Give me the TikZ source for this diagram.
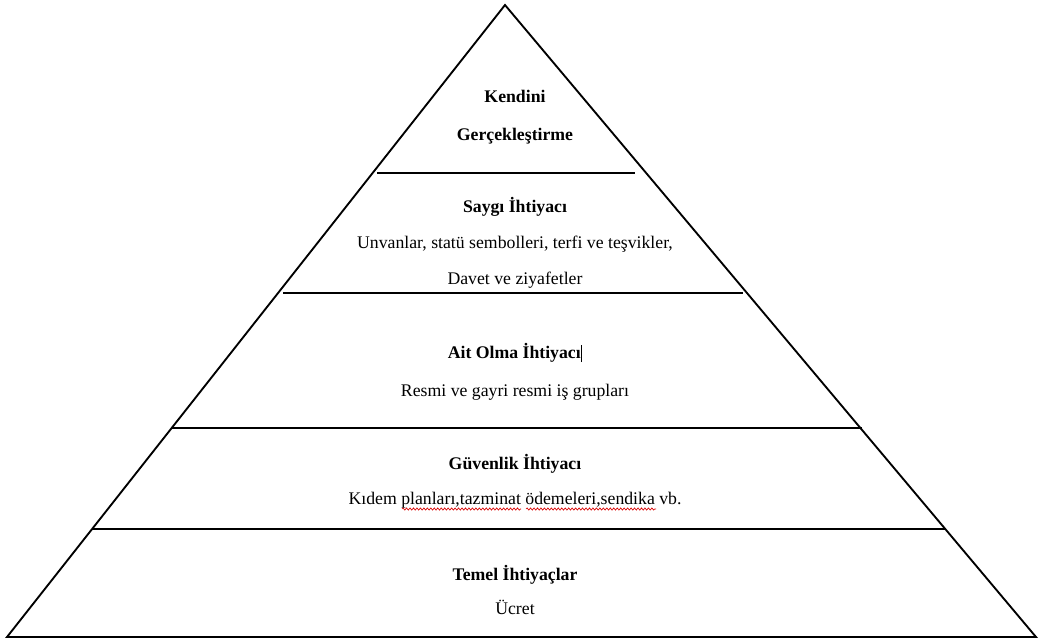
\documentclass[tikz,border=0pt]{standalone}
\usepackage{fontspec}
\setmainfont{Liberation Serif}
\usepackage{xcolor}
\usepackage{tikz}
\usetikzlibrary{decorations.pathmorphing}

\newcommand\textcursor{\kern0.5pt\rule[-2.5pt]{0.6pt}{13pt}}

\begin{document}
\begin{tikzpicture}[
  x=0.75pt, y=-0.75pt,
  edge/.style={
    draw=black,
    line width=1.4pt,
    line join=miter
  },
  divider/.style={
    draw=black,
    line width=0.8pt
  },
  layer/.style={
    align=center,
    inner sep=0pt,
    font=\fontsize{13.3}{27}\selectfont
  },
  spellmark/.style={
    draw=red!85!black,
    line width=0.5pt,
    decorate,
    decoration={snake, segment length=2.6pt, amplitude=0.8pt}
  }
]
\useasboundingbox (0,0) rectangle (1041,643);

% outline of the pyramid
\coordinate (apex) at (505,5);
\coordinate (baseL) at (7,637);
\coordinate (baseR) at (1036,637);
\draw[edge] (apex) -- (baseL) -- (baseR) -- cycle;

% dividers between the levels
\coordinate (d1l) at (377,173);
\coordinate (d1r) at (635,173);
\coordinate (d2l) at (283,293);
\coordinate (d2r) at (743,293);
\coordinate (d3l) at (172,428);
\coordinate (d3r) at (862,428);
\coordinate (d4l) at (92,529);
\coordinate (d4r) at (946,529);
\draw[divider] (d1l) -- (d1r);
\draw[divider] (d2l) -- (d2r);
\draw[divider] (d3l) -- (d3r);
\draw[divider] (d4l) -- (d4r);

% level texts
\node[layer, font=\fontsize{13.3}{28.5}\selectfont] (self) at (515,117)
  {\textbf{Kendini}\\\textbf{Gerçekleştirme}};
\node[layer] (esteem) at (515,243)
  {\textbf{Saygı İhtiyacı}\\Unvanlar, statü sembolleri, terfi ve teşvikler,\\Davet ve ziyafetler};
\node[layer, font=\fontsize{13.3}{28.5}\selectfont] (belong) at (515,372)
  {\textbf{Ait Olma İhtiyacı}\textcursor\\Resmi ve gayri resmi iş grupları};
\node[layer, font=\fontsize{13.3}{26}\selectfont] (safety) at (515,481)
  {\textbf{Güvenlik İhtiyacı}\\Kıdem planları,tazminat ödemeleri,sendika vb.};
\node[layer, font=\fontsize{13.3}{26}\selectfont] (basic) at (515,590)
  {\textbf{Temel İhtiyaçlar}\\Ücret};

% spell-check marks
\coordinate (w1a) at (402,509);
\coordinate (w1b) at (521,509);
\coordinate (w2a) at (526,509);
\coordinate (w2b) at (656,509);
\draw[spellmark] (w1a) -- (w1b);
\draw[spellmark] (w2a) -- (w2b);

\end{tikzpicture}
\end{document}
